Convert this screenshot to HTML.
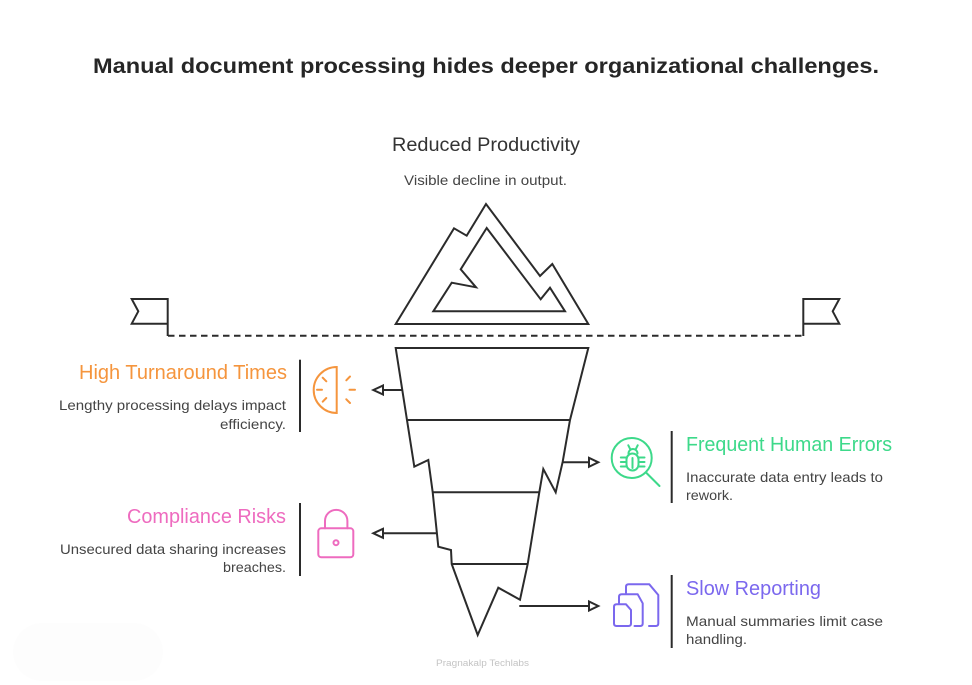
<!DOCTYPE html>
<html>
<head>
<meta charset="utf-8">
<style>
html,body{margin:0;padding:0;background:#fff;}
body{width:972px;height:685px;overflow:hidden;}
svg{display:block;}
text{font-family:"Liberation Sans",Arial,sans-serif;}
</style>
</head>
<body>
<svg width="972" height="685" viewBox="0 0 972 685" xmlns="http://www.w3.org/2000/svg">
<rect width="972" height="685" fill="#fff"/>
<rect x="13" y="623" width="150" height="58" rx="29" fill="#fdfdfd"/>

<!-- Title -->
<text x="93" y="73" font-size="21.5" font-weight="bold" fill="#262626" textLength="786" lengthAdjust="spacingAndGlyphs">Manual document processing hides deeper organizational challenges.</text>

<!-- Top labels -->
<text x="392" y="151" font-size="19" fill="#333" textLength="188" lengthAdjust="spacingAndGlyphs">Reduced Productivity</text>
<text x="404" y="185" font-size="14" fill="#444" textLength="163" lengthAdjust="spacingAndGlyphs">Visible decline in output.</text>

<g fill="none" stroke="#2b2b2b" stroke-width="2" stroke-linejoin="miter">
<!-- Mountain outer -->
<polygon points="395.7,324 454,228.3 466.7,235.7 486,204 540,276 552.3,264 588.3,324"/>
<!-- Mountain inner -->
<polygon points="433.3,311.3 451.7,282.7 476,287.3 460.7,269.3 486.7,228 540.7,299.3 550,287.7 565,311.3"/>

<!-- Dashed water line -->
<line x1="168" y1="335.7" x2="803.3" y2="335.7" stroke-dasharray="6.5 4.5"/>

<!-- Flags -->
<polyline points="167.7,336 167.7,299 131.7,299 138.3,311.3 131.7,323.7 167.7,323.7"/>
<polyline points="803.3,336 803.3,299 839.3,299 832.7,311.3 839.3,323.7 803.3,323.7"/>

<!-- Funnel -->
<polygon points="395.7,348 588.3,348 570,420 562.7,461.7 555.7,492.3 543.3,469 539.3,492.3 527.7,564 520,599.7 498.3,587.7 477.7,635 451.7,564 451,550 438.3,546.7 432.7,492.3 428.3,460 414.3,466.7"/>
<line x1="407.7" y1="420" x2="570" y2="420"/>
<line x1="432.7" y1="492.3" x2="539.3" y2="492.3"/>
<line x1="451.7" y1="564" x2="527.7" y2="564"/>

<!-- Arrows -->
<line x1="402.7" y1="390" x2="383" y2="390"/>
<polygon points="373.3,390 383,385.5 383,394.5" fill="#fff"/>
<line x1="436" y1="533.3" x2="383" y2="533.3"/>
<polygon points="373.3,533.3 383,528.8 383,537.8" fill="#fff"/>
<line x1="562.7" y1="462.3" x2="589" y2="462.3"/>
<polygon points="598.3,462.3 589,457.8 589,466.8" fill="#fff"/>
<line x1="519.3" y1="606" x2="589" y2="606"/>
<polygon points="598.3,606 589,601.5 589,610.5" fill="#fff"/>
</g>

<!-- Dividers -->
<g stroke="#2b2b2b" stroke-width="2">
<line x1="300" y1="359.7" x2="300" y2="432"/>
<line x1="300" y1="503" x2="300" y2="576"/>
<line x1="671.7" y1="431" x2="671.7" y2="503"/>
<line x1="671.7" y1="575" x2="671.7" y2="648"/>
</g>

<!-- Sun / half-circle icon (orange) -->
<g fill="none" stroke="#F5953D" stroke-width="2" stroke-linecap="round">
<path d="M336.7,367 A23,23 0 0 0 336.7,413 Z"/>
<line x1="317" y1="389.7" x2="322" y2="389.7"/>
<line x1="322.7" y1="377.7" x2="326.3" y2="381.3"/>
<line x1="322.7" y1="401.7" x2="326.3" y2="398"/>
<line x1="349.5" y1="389.7" x2="355" y2="389.7"/>
<line x1="346.3" y1="380.3" x2="350" y2="376.5"/>
<line x1="346.3" y1="399.3" x2="350" y2="403"/>
</g>

<!-- Lock icon (pink) -->
<g fill="none" stroke="#EE6BBF" stroke-width="2" stroke-linecap="round">
<path d="M325,528.3 V521 A11.2,11.2 0 0 1 347.4,521 V528.3"/>
<rect x="318.3" y="528.3" width="35" height="29" rx="3"/>
<circle cx="336" cy="542.7" r="2.5"/>
</g>

<!-- Bug search icon (green) -->
<g fill="none" stroke="#3DD98A" stroke-width="2" stroke-linecap="round">
<circle cx="631.7" cy="458" r="20"/>
<line x1="646" y1="472.5" x2="659.5" y2="486"/>
<path d="M628.5,453.5 A4.5,4.5 0 0 1 637.5,453.5"/>
<rect x="626.5" y="453.5" width="12" height="17" rx="6"/>
<line x1="628.3" y1="445.3" x2="630.3" y2="449.3"/>
<line x1="637.7" y1="445.3" x2="635.7" y2="449.3"/>
<line x1="620.8" y1="457.5" x2="626.5" y2="457.5"/>
<line x1="620.8" y1="462" x2="626.5" y2="462"/>
<line x1="620.8" y1="466.5" x2="626.5" y2="466.5"/>
<line x1="638.5" y1="457.5" x2="644.5" y2="457.5"/>
<line x1="638.5" y1="462" x2="644.5" y2="462"/>
<line x1="638.5" y1="466.5" x2="644.5" y2="466.5"/>
<line x1="632.5" y1="458" x2="632.5" y2="468"/>
</g>

<!-- Documents icon (purple) -->
<g fill="none" stroke="#7B68EE" stroke-width="2" stroke-linecap="round" stroke-linejoin="round">
<path d="M626,593 V587 Q626,584.3 628.7,584.3 H649.3 L658.3,595 V623.5 Q658.3,626 655.8,626 H649"/>
<path d="M619,603 V597 Q619,594.3 621.7,594.3 H637.7 L642.7,603.3 V623.5 Q642.7,626 640.2,626 H634.5"/>
<path d="M614,607 Q614,604.3 616.7,604.3 H626 L631,610 V623.5 Q631,626 628.5,626 H616.5 Q614,626 614,623.5 Z"/>
</g>

<!-- Left texts -->
<text x="287" y="379" font-size="20" fill="#F5953D" text-anchor="end" textLength="208" lengthAdjust="spacingAndGlyphs">High Turnaround Times</text>
<text x="286" y="410" font-size="14" fill="#444" text-anchor="end" textLength="227" lengthAdjust="spacingAndGlyphs">Lengthy processing delays impact</text>
<text x="286" y="429" font-size="14" fill="#444" text-anchor="end" textLength="66" lengthAdjust="spacingAndGlyphs">efficiency.</text>

<text x="286" y="523" font-size="20" fill="#EE6BBF" text-anchor="end" textLength="159" lengthAdjust="spacingAndGlyphs">Compliance Risks</text>
<text x="286" y="554" font-size="14" fill="#444" text-anchor="end" textLength="226" lengthAdjust="spacingAndGlyphs">Unsecured data sharing increases</text>
<text x="286" y="572" font-size="14" fill="#444" text-anchor="end" textLength="63" lengthAdjust="spacingAndGlyphs">breaches.</text>

<!-- Right texts -->
<text x="686" y="451" font-size="20" fill="#3DD98A" textLength="206" lengthAdjust="spacingAndGlyphs">Frequent Human Errors</text>
<text x="686" y="482" font-size="14" fill="#444" textLength="197" lengthAdjust="spacingAndGlyphs">Inaccurate data entry leads to</text>
<text x="686" y="500" font-size="14" fill="#444" textLength="47" lengthAdjust="spacingAndGlyphs">rework.</text>

<text x="686" y="595" font-size="20" fill="#7B68EE" textLength="135" lengthAdjust="spacingAndGlyphs">Slow Reporting</text>
<text x="686" y="626" font-size="14" fill="#444" textLength="197" lengthAdjust="spacingAndGlyphs">Manual summaries limit case</text>
<text x="686" y="644" font-size="14" fill="#444" textLength="61" lengthAdjust="spacingAndGlyphs">handling.</text>

<!-- Watermark -->
<text x="436" y="666" font-size="9" fill="#c4c4c4" textLength="93" lengthAdjust="spacingAndGlyphs">Pragnakalp Techlabs</text>
</svg>
</body>
</html>
